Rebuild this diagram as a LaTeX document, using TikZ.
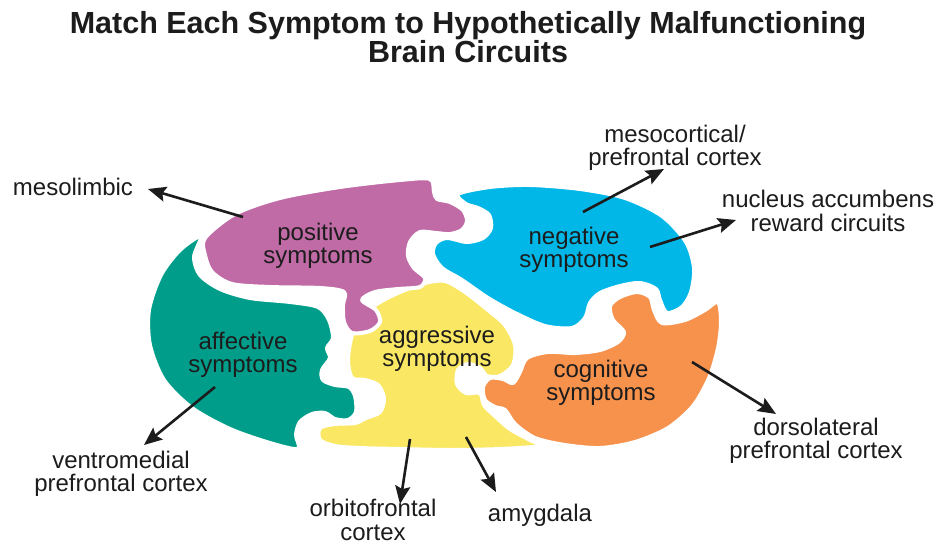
\documentclass[tikz,border=0pt]{standalone}
\usepackage{fontspec}
\setmainfont{Liberation Sans}
\usetikzlibrary{arrows.meta}
\definecolor{cPos}{RGB}{192,106,166}
\definecolor{cNeg}{RGB}{0,183,232}
\definecolor{cAff}{RGB}{0,158,138}
\definecolor{cAgg}{RGB}{250,232,100}
\definecolor{cCog}{RGB}{247,146,77}
\definecolor{ink}{RGB}{28,28,28}
\begin{document}
\begin{tikzpicture}[x=1pt,y=-1pt,
  piece/.style={draw=white, line width=4pt, line join=round},
  lbl/.style={font=\fontsize{24}{23.5}\selectfont, text=ink, align=center, inner sep=0pt},
  arr/.style={draw=ink, line width=2.6pt, -{Stealth[length=18pt,width=15pt,inset=3pt]}}]
\useasboundingbox (0,0) rectangle (938,546);
\fill[white] (0,0) rectangle (938,546);

% affective (teal)
\path[piece, fill=cAff] plot[smooth cycle, tension=0.5] coordinates {
 (201,236) (180,250) (161,275) (149,310) (150,345) (164,380) (192,408) (230,429)
 (270,443) (298,449) (296,435) (300,422) (312,414) (325,413) (335,419) (348,420)
 (356,412) (355,396) (349,387) (335,385) (323,380) (322,370) (330,358) (327,348)
 (333,338) (329,320) (318,307) (290,302) (250,298) (220,289) (200,275) (194,257)};

% aggressive (yellow)
\path[piece, fill=cAgg] plot[smooth cycle, tension=0.5] coordinates {
 (380,302) (400,292) (425,283) (445,281) (465,292) (488,310) (505,325) (515,345)
 (513,365) (500,376) (487,376) (480,368) (468,364) (458,370) (457,384) (466,393)
 (480,393) (484,405) (495,416) (510,429) (530,440) (540,446) (500,449) (450,450)
 (400,449) (360,448) (335,446) (320,440) (320,428) (335,424) (355,423) (366,418)
 (380,412) (384,398) (378,385) (365,380) (352,378) (348,360) (352,335) (362,315)};

% cognitive (orange)
\path[piece, fill=cCog] plot[smooth cycle, tension=0.5] coordinates {
 (527,358) (548,352) (575,353) (600,350) (618,342) (624,332) (613,320) (610,306)
 (620,297) (637,292) (650,297) (654,310) (662,323) (685,320) (705,310) (718,302)
 (721,322) (718,348) (709,378) (693,406) (668,428) (635,442) (600,448) (565,445)
 (535,438) (515,424) (505,410) (495,407) (485,400) (483,387) (490,378) (503,379)
 (513,383) (520,372)};

% negative (blue)
\path[piece, fill=cNeg] plot[smooth cycle, tension=0.5] coordinates {
 (458,194) (490,187) (530,185) (580,189) (625,198) (662,216) (686,242) (694,268)
 (691,292) (682,307) (667,313) (660,300) (656,289) (640,283) (620,286) (600,293)
 (590,303) (585,318) (572,328) (545,326) (515,313) (488,298) (462,280) (442,268)
 (433,254) (436,243) (447,238) (467,242) (483,238) (491,228) (489,215) (478,208)
 (466,204)};

% positive (magenta)
\path[piece, fill=cPos] plot[smooth cycle, tension=0.5] coordinates {
 (205,238) (235,214) (280,198) (340,187) (400,180) (430,179) (434,192) (437,199)
 (450,202) (463,210) (467,221) (462,230) (450,234) (436,233) (420,232) (410,242)
 (408,256) (414,268) (425,278) (420,287) (398,289) (375,292) (362,300) (376,310)
 (380,322) (370,331) (352,333) (344,322) (343,305) (344,292) (320,288) (270,287)
 (232,284) (212,272) (205,255)};

% title
\node[font=\fontsize{30.5}{29}\selectfont\bfseries, text=ink, align=center, inner sep=0pt]
  (title) at (468,37) {Match Each Symptom to Hypothetically Malfunctioning\\Brain Circuits};

% piece labels
\node[lbl] (pos) at (318,246) {positive\\symptoms};
\node[lbl] (neg) at (574,250) {negative\\symptoms};
\node[lbl] (aff) at (243,355) {affective\\symptoms};
\node[lbl] (agg) at (437,349) {aggressive\\symptoms};
\node[lbl] (cog) at (601,383) {cognitive\\symptoms};

% outer labels
\node[lbl] (meso) at (73,187) {mesolimbic};
\node[lbl] (mcort) at (675,148) {mesocortical/\\prefrontal cortex};
\node[lbl] (nacc) at (828,211) {nucleus accumbens\\reward circuits};
\node[lbl] (vmed) at (121,474) {ventromedial\\prefrontal cortex};
\node[lbl] (orb) at (373,520) {orbitofrontal\\cortex};
\node[lbl] (amy) at (540,515) {amygdala};
\node[lbl] (dlat) at (816,441) {dorsolateral\\prefrontal cortex};

% arrow ends
\coordinate (pA) at (243,217); \coordinate (pT) at (148,189);
\coordinate (nA1) at (583,212); \coordinate (nT1) at (664,169);
\coordinate (nA2) at (650,247); \coordinate (nT2) at (736,220);
\coordinate (fA) at (215,387); \coordinate (fT) at (144,445);
\coordinate (gA1) at (410,439); \coordinate (gT1) at (400,504);
\coordinate (gA2) at (466,437); \coordinate (gT2) at (496,492);
\coordinate (cA) at (692,362); \coordinate (cT) at (776,414);

\draw[arr] (pA) -- (pT);
\draw[arr] (nA1) -- (nT1);
\draw[arr] (nA2) -- (nT2);
\draw[arr] (fA) -- (fT);
\draw[arr] (gA1) -- (gT1);
\draw[arr] (gA2) -- (gT2);
\draw[arr] (cA) -- (cT);
\end{tikzpicture}
\end{document}
